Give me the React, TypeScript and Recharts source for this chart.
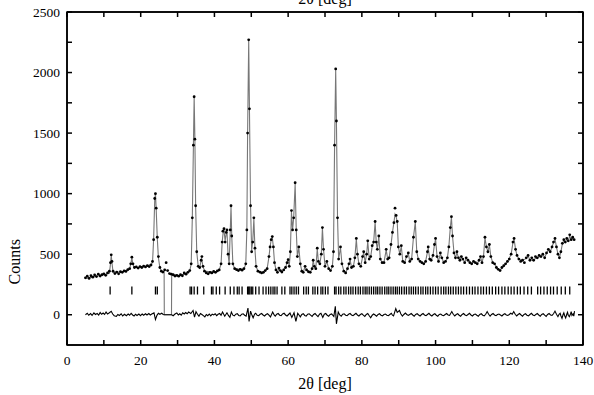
import React from 'react';
import { ComposedChart, XAxis, YAxis, Line, ReferenceArea } from 'recharts';

// 2θ [deg], counts
const observed: number[][] = [
  [5.0,305],[5.5,318],[6.0,300],[6.5,322],[7.0,310],[7.5,328],[8.0,315],[8.5,335],[9.0,320],[9.5,330],[10.0,338],[10.5,325],[11.0,345],[11.5,360],[11.8,430],[12.0,495],[12.2,440],[12.5,360],[13.0,340],[13.5,352],[14.0,338],[14.5,355],[15.0,350],[15.5,362],[16.0,358],[16.5,372],[17.0,380],[17.3,420],[17.6,475],[17.9,420],[18.3,390],[18.8,395],[19.3,385],[19.8,398],[20.3,390],[20.8,402],[21.3,395],[21.8,405],[22.3,398],[22.8,410],[23.2,440],[23.5,620],[23.8,960],[24.0,1000],[24.2,880],[24.5,640],[24.8,480],[25.2,390],[25.6,360],[26.0,352],[26.5,370],[26.9,430],[27.3,365],[27.8,340],[28.3,335],[28.8,330],[29.3,320],[29.8,325],[30.3,318],[30.8,330],[31.3,322],[31.8,345],[32.3,335],[32.8,350],[33.3,365],[33.7,420],[34.0,800],[34.3,1400],[34.5,1800],[34.7,1450],[34.9,900],[35.2,520],[35.6,400],[36.0,390],[36.4,450],[36.6,480],[36.9,400],[37.3,360],[37.8,345],[38.3,338],[38.8,350],[39.3,345],[39.8,358],[40.3,350],[40.8,362],[41.3,370],[41.8,420],[42.1,600],[42.3,690],[42.6,710],[42.9,600],[43.2,680],[43.4,700],[43.7,500],[44.0,420],[44.3,700],[44.5,900],[44.7,650],[45.0,420],[45.5,380],[46.0,372],[46.5,365],[47.0,375],[47.5,368],[48.0,380],[48.5,420],[48.8,700],[49.0,1500],[49.3,2270],[49.5,1700],[49.8,900],[50.1,520],[50.4,600],[50.7,800],[51.0,550],[51.3,400],[51.8,360],[52.3,352],[52.8,345],[53.3,350],[53.8,365],[54.3,380],[54.8,480],[55.1,560],[55.4,620],[55.7,645],[56.0,560],[56.3,430],[56.7,370],[57.1,350],[57.5,385],[57.9,365],[58.3,352],[58.8,370],[59.3,390],[59.7,430],[60.0,455],[60.3,400],[60.6,520],[60.9,860],[61.2,700],[61.5,800],[61.9,1090],[62.2,700],[62.5,480],[62.9,560],[63.3,420],[63.7,360],[64.1,350],[64.6,400],[65.0,370],[65.5,355],[66.0,350],[66.5,380],[66.8,450],[67.1,400],[67.5,380],[67.9,550],[68.2,440],[68.6,420],[69.0,500],[69.3,720],[69.6,540],[70.0,400],[70.5,440],[71.0,380],[71.5,365],[72.0,400],[72.3,520],[72.6,1400],[72.9,2030],[73.1,1600],[73.4,800],[73.7,460],[74.2,560],[74.6,420],[75.1,360],[75.6,345],[76.1,380],[76.5,420],[76.8,460],[77.2,390],[77.7,400],[78.1,470],[78.5,630],[78.8,500],[79.2,420],[79.7,400],[80.2,480],[80.5,520],[80.9,430],[81.3,500],[81.6,610],[82.0,460],[82.4,480],[82.8,570],[83.2,600],[83.6,770],[83.9,600],[84.2,540],[84.6,650],[85.0,460],[85.5,430],[86.0,430],[86.6,540],[87.0,460],[87.4,470],[87.9,580],[88.3,680],[88.7,760],[89.0,880],[89.3,820],[89.6,770],[89.9,560],[90.3,500],[90.7,570],[91.1,440],[91.6,430],[92.1,480],[92.6,510],[93.0,440],[93.5,460],[94.0,640],[94.5,770],[94.9,520],[95.3,460],[95.8,440],[96.3,430],[96.8,420],[97.3,440],[97.8,520],[98.0,560],[98.4,460],[98.8,450],[99.3,490],[99.7,580],[100.0,630],[100.4,480],[100.8,440],[101.3,510],[101.7,470],[102.2,430],[102.7,440],[103.2,470],[103.6,560],[104.0,720],[104.3,810],[104.6,650],[105.0,510],[105.4,470],[105.8,520],[106.2,470],[106.6,450],[107.0,480],[107.4,460],[107.9,430],[108.3,470],[108.8,450],[109.3,430],[109.8,420],[110.3,440],[110.8,430],[111.3,420],[111.8,450],[112.2,480],[112.6,430],[113.0,480],[113.4,640],[113.8,560],[114.2,520],[114.6,580],[115.0,480],[115.5,430],[116.0,420],[116.5,390],[117.0,375],[117.5,365],[118.0,390],[118.5,405],[119.0,420],[119.5,440],[120.0,460],[120.5,500],[121.0,600],[121.3,630],[121.7,540],[122.1,490],[122.6,460],[123.1,440],[123.6,450],[124.1,430],[124.6,470],[125.1,490],[125.6,450],[126.1,470],[126.6,450],[127.1,480],[127.6,470],[128.1,490],[128.6,480],[129.1,500],[129.6,470],[130.1,510],[130.6,540],[131.1,520],[131.6,560],[132.0,600],[132.4,630],[132.8,560],[133.2,500],[133.6,470],[134.0,520],[134.4,590],[134.8,620],[135.2,600],[135.6,630],[136.0,610],[136.4,660],[136.8,620],[137.2,640],[137.6,620],
];

const calculated: number[][] = [
  [5,300],[8,318],[10,330],[11.5,342],[11.8,420],[12,490],[12.2,430],[12.5,350],[15,355],[17.0,378],[17.3,420],[17.6,470],[17.9,415],[18.3,390],[20,392],[22,402],[23.2,430],[23.5,620],[23.8,950],[24,1000],[24.2,870],[24.5,630],[24.8,470],[25.2,390],[25.6,362],[26.0,352],[26.35,356],[26.4,0],[28.35,0],[28.4,335],[30,322],[32,335],[33.3,360],[33.7,420],[34.0,800],[34.3,1400],[34.5,1800],[34.7,1450],[34.9,900],[35.2,520],[35.6,400],[36.0,385],[36.5,470],[36.9,395],[37.4,360],[40,348],[41.3,368],[41.8,420],[42.1,600],[42.4,690],[42.6,700],[42.9,610],[43.2,670],[43.4,690],[43.7,500],[44.0,420],[44.3,700],[44.5,890],[44.7,650],[45.0,420],[45.5,380],[48,375],[48.5,420],[48.8,700],[49.0,1500],[49.3,2260],[49.5,1700],[49.8,900],[50.1,530],[50.4,610],[50.7,790],[51.0,540],[51.3,400],[51.8,360],[53,348],[54.3,380],[54.8,480],[55.1,560],[55.4,620],[55.7,640],[56.0,555],[56.3,430],[56.7,370],[57.1,355],[57.5,380],[57.9,362],[58.3,355],[59.3,388],[59.7,430],[60.0,450],[60.3,400],[60.6,520],[60.9,850],[61.2,700],[61.5,800],[61.9,1080],[62.2,700],[62.5,480],[62.9,555],[63.3,420],[63.7,362],[64.1,352],[64.6,398],[65.0,370],[66.0,352],[66.5,380],[66.8,448],[67.1,400],[67.5,382],[67.9,545],[68.2,440],[68.6,420],[69.0,500],[69.3,715],[69.6,540],[70.0,402],[70.5,438],[71.0,380],[71.5,366],[72.0,400],[72.3,520],[72.6,1400],[72.9,2020],[73.1,1600],[73.4,800],[73.7,460],[74.2,555],[74.6,420],[75.1,362],[75.6,348],[76.1,378],[76.5,418],[76.8,455],[77.2,392],[77.7,400],[78.1,468],[78.5,625],[78.8,500],[79.2,420],[79.7,402],[80.2,478],[80.5,515],[80.9,432],[81.3,500],[81.6,605],[82.0,462],[82.4,480],[82.8,565],[83.2,600],[83.6,765],[83.9,600],[84.2,540],[84.6,645],[85.0,462],[85.5,432],[86.0,432],[86.6,535],[87.0,462],[87.4,470],[87.9,575],[88.3,680],[88.7,760],[89.0,830],[89.3,810],[89.6,765],[89.9,560],[90.3,500],[90.7,565],[91.1,442],[91.6,432],[92.1,478],[92.6,505],[93.0,442],[93.5,460],[94.0,640],[94.5,765],[94.9,520],[95.3,460],[95.8,440],[96.8,422],[97.3,440],[97.8,520],[98.0,555],[98.4,462],[98.8,450],[99.3,490],[99.7,580],[100.0,625],[100.4,482],[100.8,442],[101.3,505],[101.7,470],[102.2,432],[102.7,440],[103.2,470],[103.6,560],[104.0,720],[104.3,805],[104.6,650],[105.0,510],[105.4,470],[105.8,515],[106.2,470],[106.6,452],[107.0,478],[107.4,460],[107.9,432],[108.3,468],[108.8,450],[109.8,422],[110.3,440],[111.3,422],[111.8,450],[112.2,478],[112.6,432],[113.0,480],[113.4,635],[113.8,560],[114.2,522],[114.6,575],[115.0,480],[115.5,432],[116.0,420],[117.0,376],[117.5,368],[118.5,402],[119.5,438],[120.5,498],[121.0,598],[121.3,625],[121.7,540],[122.1,490],[122.6,460],[123.6,448],[124.6,465],[125.1,485],[125.6,452],[126.6,455],[127.6,472],[128.6,482],[129.1,498],[129.6,472],[130.1,508],[130.6,535],[131.1,522],[131.6,558],[132.0,598],[132.4,625],[132.8,560],[133.2,500],[133.6,472],[134.0,520],[134.4,585],[134.8,615],[135.2,600],[135.6,625],[136.0,610],[136.4,650],[136.8,620],[137.2,635],[137.6,620],
];

const difference: number[][] = [
  [5,0],[5.5,12],[5.9,-4],[6.4,9],[6.8,-6],[7.3,15],[7.7,2],[8.2,10],[8.6,-3],[9,18],[9.4,4],[9.8,14],[10.2,2],[10.6,22],[11,6],[11.4,14],[12,28],[12.4,6],[12.8,-8],[13.4,-14],[13.8,2],[14.2,-6],[14.7,8],[15.1,-10],[15.6,4],[16.1,-8],[16.6,6],[17.0,-4],[17.4,12],[17.8,-2],[18.2,-10],[18.6,4],[19,-6],[19.5,6],[19.9,-8],[20.4,6],[20.8,-4],[21.3,8],[21.7,-2],[22.2,10],[22.6,-2],[23,6],[23.6,15],[24,-40],[24.4,-5],[24.8,12],[25.2,4],[25.7,12],[26.1,2],[26.4,0],[28.4,0],[28.8,-8],[29.3,6],[29.8,14],[30.2,-2],[30.6,8],[31.0,-4],[31.4,16],[31.8,6],[32.2,18],[32.6,8],[33,22],[33.6,10],[34.2,35],[34.6,-20],[35,25],[35.4,4],[35.8,-12],[36.2,10],[36.6,2],[37.0,-8],[37.4,-18],[37.8,2],[38.2,-8],[38.6,6],[39,-10],[39.4,4],[39.8,-2],[40.2,8],[40.6,-8],[41.0,4],[41.4,10],[41.8,-4],[42.2,22],[42.8,-12],[43.4,16],[43.8,-6],[44.2,-22],[44.6,22],[45.0,-4],[45.4,-10],[45.8,4],[46.2,8],[46.6,-6],[47,-10],[47.4,4],[47.8,8],[48.2,-4],[48.6,-12],[49.1,55],[49.4,-55],[49.8,30],[50.2,-5],[50.5,-25],[50.9,6],[51.2,12],[51.6,-4],[52,-8],[52.4,4],[52.8,10],[53.2,-2],[53.6,-10],[54.0,2],[54.4,8],[54.8,-4],[55.2,-18],[55.8,22],[56.2,-2],[56.5,-12],[56.9,4],[57.3,10],[57.7,-4],[58.1,-8],[58.5,6],[58.9,12],[59.3,-2],[59.7,-10],[60.1,2],[60.5,14],[61,-22],[61.6,16],[62.1,-55],[62.6,12],[63.0,-4],[63.3,-18],[63.7,2],[64.1,8],[64.5,-6],[64.9,-12],[65.3,4],[65.7,8],[66.1,-4],[66.5,-14],[66.9,2],[67.3,10],[67.7,-4],[68.1,-16],[68.5,4],[68.9,12],[69.4,-22],[69.8,4],[70.2,10],[70.6,-4],[71,-12],[71.4,2],[71.8,6],[72.4,-15],[72.8,70],[73.1,-75],[73.6,22],[74.0,-2],[74.4,-12],[74.8,4],[75.2,8],[75.6,-4],[76,-8],[76.4,4],[76.8,10],[77.2,-2],[77.6,-8],[78.0,2],[78.4,12],[78.8,-2],[79.2,-10],[79.6,2],[80,8],[80.4,-4],[80.8,-14],[81.2,2],[81.6,10],[82.0,-8],[82.4,-25],[82.8,-4],[83.2,6],[83.6,-2],[84,-12],[84.4,2],[84.8,8],[85.2,-4],[85.6,-10],[86.0,2],[86.4,6],[86.8,-4],[87.2,-8],[87.6,2],[88,12],[88.3,-4],[88.6,-10],[89.2,50],[89.6,20],[90.2,35],[90.6,6],[91,-12],[91.4,2],[91.8,14],[92.2,2],[92.6,-6],[93.0,2],[93.4,10],[93.8,-2],[94.2,-12],[94.6,2],[95,8],[95.4,-2],[95.8,-10],[96.2,2],[96.6,10],[97.0,-2],[97.4,-8],[97.8,2],[98.2,12],[98.6,-2],[99,-10],[99.4,2],[99.8,8],[100.2,-4],[100.6,-12],[101.0,2],[101.4,6],[101.8,-4],[102.2,-8],[102.6,2],[103,10],[103.4,-2],[103.8,-6],[104.4,26],[104.8,4],[105.2,-10],[105.6,2],[106,8],[106.4,-4],[106.8,-12],[107.2,2],[107.6,10],[108.0,-2],[108.4,-8],[108.8,2],[109.2,12],[109.6,-2],[110,-10],[110.4,2],[110.8,6],[111.2,-4],[111.6,-12],[112.0,2],[112.4,8],[112.8,-4],[113.2,-10],[113.6,4],[114,26],[114.4,4],[114.8,-12],[115.2,2],[115.6,10],[116.0,-2],[116.4,-8],[116.8,2],[117.2,6],[117.6,-2],[118,-10],[118.4,2],[118.8,8],[119.2,-2],[119.6,-6],[120.0,2],[120.4,12],[120.8,4],[121.2,26],[121.6,4],[122,-10],[122.4,2],[122.8,10],[123.2,-2],[123.6,-12],[124.0,2],[124.4,8],[124.8,-4],[125.2,-10],[125.6,2],[126,12],[126.4,-2],[126.8,-8],[127.2,2],[127.6,10],[128.0,-2],[128.4,-12],[128.8,2],[129.2,8],[129.6,-4],[130,-14],[130.4,2],[130.8,10],[131.2,-2],[131.6,-6],[132.0,8],[132.4,30],[132.8,4],[133.2,-16],[133.5,4],[133.8,12],[134.0,-8],[134.3,-30],[134.6,2],[134.8,16],[135.0,-6],[135.3,-26],[135.6,4],[135.8,20],[136.0,-4],[136.3,-16],[136.6,6],[136.8,26],[137.0,-6],[137.3,6],[137.5,-12],[137.7,30],
];

const reflections: number[] = [
  11.7, 17.6, 24.0, 24.5,
  33.4, 33.8, 34.5, 35.4, 37.1, 39.2, 39.6, 40.5, 41.4, 42.9, 44.3, 45.3, 46.2, 46.7, 47.5,
  49.0, 49.3, 49.6, 50.0, 50.4, 51.2, 52.1, 53.2, 54.0, 54.7, 55.3, 55.9, 56.4, 57.0, 58.3, 59.1,
  60.5, 61.0, 61.6, 62.2, 62.8, 64.2, 64.9, 65.5, 66.7, 67.3, 68.0, 68.9, 69.4, 70.1, 70.8,
  72.6, 73.0, 73.7, 74.3, 75.1, 75.7, 76.4, 77.0, 77.6, 78.3, 79.0, 79.6, 80.3, 80.9, 81.4,
  82.0, 82.6, 83.2, 83.8, 84.3, 84.9, 85.5, 86.2, 86.8, 87.3, 87.9, 88.5, 89.1, 89.6, 90.2,
  90.8, 91.5, 92.1, 92.8, 93.4, 94.0, 94.6, 95.3, 96.0, 96.6, 97.3, 97.9, 98.6, 99.3, 100.0,
  100.7, 101.5, 102.2, 102.8, 103.5, 104.1, 104.8, 105.5, 106.2, 106.9, 107.6, 108.4, 109.2,
  110.0, 110.7, 111.5, 112.3, 113.0, 113.8, 114.6, 115.4, 116.3, 117.1, 118.0, 118.8, 119.7,
  120.5, 121.3, 122.2, 123.0, 124.0, 125.0, 126.0, 127.7, 128.5, 129.4, 130.3, 131.2, 132.0,
  133.0, 134.1, 135.2, 136.4,
];
const reflectionLevel = 200;

const xTicks = [0, 10, 20, 30, 40, 50, 60, 70, 80, 90, 100, 110, 120, 130, 140];
const yTicks = [0, 250, 500, 750, 1000, 1250, 1500, 1750, 2000, 2250, 2500];
const xDomain = [0, 140];
const yDomain = [-250, 2500];
const xLabel = '2θ [deg]';
const yLabel = 'Counts';

const toXY = (arr: number[][]) => arr.map(([x, y]) => ({ x, y }));
const obsData = toXY(observed);
const calcData = toXY(calculated);
const diffData = toXY(difference);
const reflData = reflections.map((x) => ({ x, y: reflectionLevel }));

const FONT = 'Liberation Serif, Times New Roman, serif';
const W = 594;
const H = 395;
const AXIS = { stroke: '#000', strokeWidth: 1.5 };
const TICKLINE = { stroke: '#000', strokeWidth: 1.5 };

const BottomLabel = (p: any) => {
  const v = p.payload.value;
  if (v % 20 !== 0) return <g />;
  return (
    <text x={p.x} y={p.y + 20} textAnchor="middle" fontSize={13.5} fontFamily={FONT} fill="#000">
      {v}
    </text>
  );
};
const LeftLabel = (p: any) => {
  const v = p.payload.value;
  if (v % 500 !== 0) return <g />;
  return (
    <text x={p.x} y={p.y + 4.5} textAnchor="end" fontSize={13.5} fontFamily={FONT} fill="#000">
      {v}
    </text>
  );
};
const NoLabel = () => <g />;

const BottomTitle = (p: any) => {
  const vb = p.viewBox || {};
  return (
    <text x={vb.x + vb.width / 2} y={vb.y + 44} textAnchor="middle" fontSize={16} fontFamily={FONT} fill="#000">
      {xLabel}
    </text>
  );
};
const TopTitle = (p: any) => {
  const vb = p.viewBox || {};
  return (
    <text x={vb.x + vb.width / 2} y={vb.y - 2} textAnchor="middle" fontSize={16} fontFamily={FONT} fill="#000">
      {xLabel}
    </text>
  );
};
const LeftTitle = (p: any) => {
  const vb = p.viewBox || {};
  const cx = vb.x + 20;
  const cy = vb.y + vb.height * 0.75;
  return (
    <text
      x={cx}
      y={cy}
      textAnchor="middle"
      fontSize={16}
      fontFamily={FONT}
      fill="#000"
      transform={`rotate(-90 ${cx} ${cy})`}
    >
      {yLabel}
    </text>
  );
};

const Dot = (p: any) => <circle key={p.index} cx={p.cx} cy={p.cy} r={1.4} fill="#000" />;
const ReflMark = (p: any) => (
  <line key={p.index} x1={p.cx} x2={p.cx} y1={p.cy - 4} y2={p.cy + 4} stroke="#000" strokeWidth={1.3} />
);

export default function App() {
  return (
    <div style={{ position: 'absolute', left: 0, top: 0, width: W, height: H, background: '#fff' }}>
      <ComposedChart width={W} height={H} margin={{ top: 6, right: 5, bottom: 0, left: 0 }}>
        <XAxis
          xAxisId="bottom"
          dataKey="x"
          type="number"
          domain={xDomain}
          ticks={xTicks}
          interval={0}
          height={50}
          tickSize={-5}
          tickMargin={5}
          tickLine={TICKLINE}
          tick={<BottomLabel />}
          axisLine={AXIS}
          label={<BottomTitle />}
        />
        <XAxis
          xAxisId="top"
          dataKey="x"
          orientation="top"
          type="number"
          domain={xDomain}
          ticks={xTicks}
          interval={0}
          height={6}
          tickSize={-5}
          tickMargin={0}
          tickLine={TICKLINE}
          tick={<NoLabel />}
          axisLine={AXIS}
          label={<TopTitle />}
        />
        <YAxis
          yAxisId="left"
          type="number"
          domain={yDomain}
          ticks={yTicks}
          interval={0}
          width={67}
          tickSize={-5}
          tickMargin={12}
          tickLine={TICKLINE}
          tick={<LeftLabel />}
          axisLine={AXIS}
          label={<LeftTitle />}
        />
        <YAxis
          yAxisId="right"
          orientation="right"
          type="number"
          domain={yDomain}
          ticks={yTicks}
          interval={0}
          width={6}
          tickSize={-5}
          tickMargin={0}
          tickLine={TICKLINE}
          tick={<NoLabel />}
          axisLine={AXIS}
        />
        <Line
          xAxisId="bottom"
          yAxisId="left"
          data={calcData}
          dataKey="y"
          type="linear"
          stroke="#777"
          strokeWidth={1.1}
          dot={false}
          activeDot={false}
          isAnimationActive={false}
        />
        <Line
          xAxisId="bottom"
          yAxisId="left"
          data={obsData}
          dataKey="y"
          type="linear"
          stroke="none"
          dot={<Dot />}
          activeDot={false}
          isAnimationActive={false}
        />
        <Line
          xAxisId="top"
          yAxisId="right"
          data={diffData}
          dataKey="y"
          type="linear"
          stroke="#000"
          strokeWidth={1.1}
          dot={false}
          activeDot={false}
          isAnimationActive={false}
        />
        <Line
          xAxisId="top"
          yAxisId="right"
          data={reflData}
          dataKey="y"
          type="linear"
          stroke="none"
          dot={<ReflMark />}
          activeDot={false}
          isAnimationActive={false}
        />
        <ReferenceArea
          xAxisId="bottom"
          yAxisId="left"
          x1={xDomain[0]}
          x2={xDomain[1]}
          y1={yDomain[0]}
          y2={yDomain[1]}
          fill="none"
          stroke="#000"
          strokeWidth={1.5}
          ifOverflow="visible"
        />
      </ComposedChart>
    </div>
  );
}
